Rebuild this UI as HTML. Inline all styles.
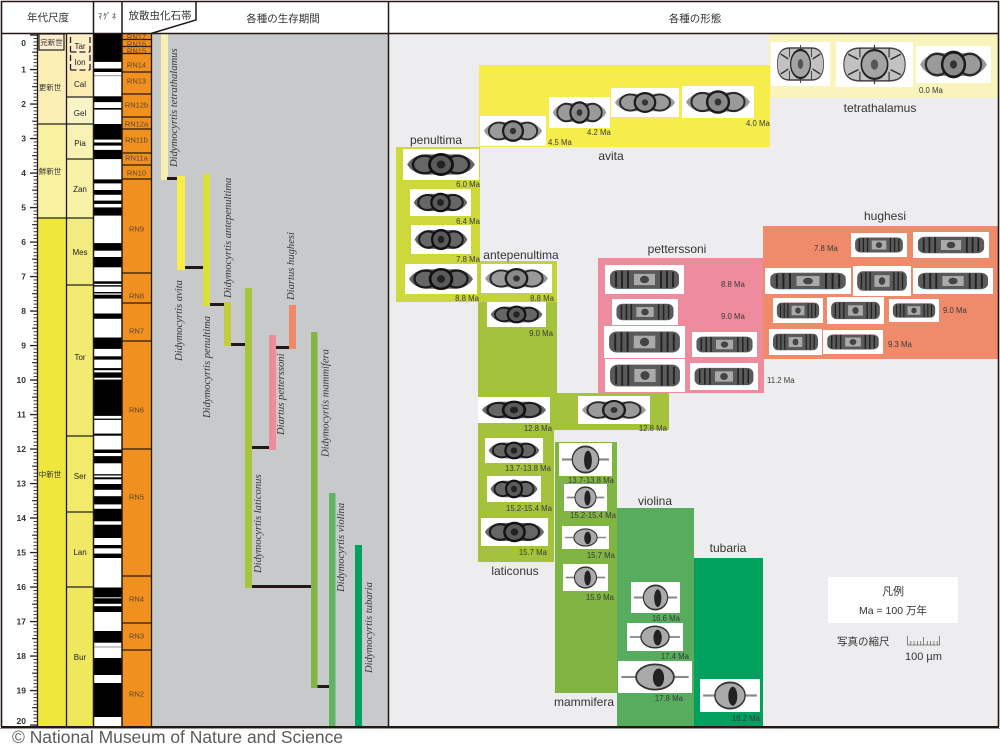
<!DOCTYPE html>
<html><head><meta charset="utf-8"><style>
html,body{margin:0;padding:0;background:#fff}
svg{display:block}
.s{font-family:"Liberation Sans","Noto Sans CJK JP",sans-serif}
.i{font-family:"Liberation Serif",serif;font-style:italic;font-size:10.6px;fill:#3a3a3a}
.m{font-family:"Liberation Sans",sans-serif;font-size:7.8px;fill:#3a3a3a}
.sp{font-family:"Liberation Sans",sans-serif;font-size:12px;fill:#333}
.rn{font-family:"Liberation Sans",sans-serif;font-size:7.5px;fill:#5b4630}
.st{font-family:"Liberation Sans",sans-serif;font-size:8px;fill:#222}
.ep{font-family:"Liberation Sans","Noto Sans CJK JP",sans-serif;font-size:7.5px;fill:#333}
.nm{font-family:"Liberation Sans",sans-serif;font-size:8.5px;font-weight:bold;fill:#333}
.hd{font-family:"Liberation Sans","Noto Sans CJK JP",sans-serif;font-size:10.5px;fill:#333}
</style></head><body>
<svg width="1000" height="750" viewBox="0 0 1000 750" xmlns="http://www.w3.org/2000/svg">
<defs>
<symbol id="fa" viewBox="0 0 100 40" preserveAspectRatio="none">
 <path d="M3 20 Q10 8 28 6 L72 6 Q90 8 97 20 Q90 32 72 34 L28 34 Q10 32 3 20Z" fill="#9a9a9a"/>
 <ellipse cx="27" cy="20" rx="16" ry="13" fill="none" stroke="#2a2a2a" stroke-width="3"/>
 <ellipse cx="73" cy="20" rx="16" ry="13" fill="none" stroke="#2a2a2a" stroke-width="3"/>
 <ellipse cx="50" cy="20" rx="16" ry="15" fill="#8a8a8a" stroke="#1a1a1a" stroke-width="3.5"/>
 <circle cx="50" cy="20" r="5" fill="#333"/>
</symbol>
<symbol id="fd" viewBox="0 0 100 40" preserveAspectRatio="none">
 <path d="M3 20 Q10 7 28 5 L72 5 Q90 7 97 20 Q90 33 72 35 L28 35 Q10 33 3 20Z" fill="#666"/>
 <ellipse cx="27" cy="20" rx="16" ry="13" fill="none" stroke="#1a1a1a" stroke-width="3.5"/>
 <ellipse cx="73" cy="20" rx="16" ry="13" fill="none" stroke="#1a1a1a" stroke-width="3.5"/>
 <ellipse cx="50" cy="20" rx="16" ry="15" fill="#5a5a5a" stroke="#111" stroke-width="4"/>
 <circle cx="50" cy="20" r="6" fill="#222"/>
</symbol>
<symbol id="fb" viewBox="0 0 100 40" preserveAspectRatio="none">
 <rect x="4" y="5" width="92" height="30" rx="10" fill="#5a5a5a"/>
 <rect x="36" y="11" width="28" height="18" fill="#aaa"/>
 <circle cx="50" cy="20" r="6" fill="#444"/>
 <path d="M12 8V32M20 6V34M28 6V34M72 6V34M80 6V34M88 8V32" stroke="#222" stroke-width="2.5"/>
</symbol>
<symbol id="fc" viewBox="0 0 100 40" preserveAspectRatio="none">
 <rect x="2" y="18.5" width="96" height="3" fill="#888"/>
 <ellipse cx="50" cy="20" rx="27" ry="18" fill="#aaa" stroke="#333" stroke-width="2.5"/>
 <ellipse cx="55" cy="21" rx="8" ry="13" fill="#222"/>
</symbol>
<symbol id="ft" viewBox="0 0 100 40" preserveAspectRatio="none">
 <path d="M8 20 Q8 4 30 4 L70 4 Q92 4 92 20 Q92 36 70 36 L30 36 Q8 36 8 20Z" fill="#c2c2c2" stroke="#444" stroke-width="1.5"/>
 <path d="M14 10L28 15M14 30L28 25M86 10L72 15M86 30L72 25M30 4V13M70 4V13M30 36V27M70 36V27M50 1V6M50 34V39" stroke="#333" stroke-width="1.6"/>
 <ellipse cx="50" cy="20" rx="18" ry="14" fill="#a4a4a4" stroke="#222" stroke-width="2.2"/>
 <circle cx="50" cy="20" r="5" fill="#555"/>
</symbol>
<pattern id="mn" x="0" y="34.55" width="40" height="3.45" patternUnits="userSpaceOnUse"><rect x="0" y="0" width="40" height="0.9" fill="#222"/></pattern>
<pattern id="mj" x="0" y="34.4" width="40" height="34.5" patternUnits="userSpaceOnUse"><rect x="0" y="0" width="40" height="1.3" fill="#222"/></pattern>
<pattern id="md" x="0" y="51.65" width="40" height="34.5" patternUnits="userSpaceOnUse"><rect x="0" y="0" width="40" height="1" fill="#222"/></pattern>
</defs>

<!-- backgrounds -->
<rect x="0" y="0" width="1000" height="750" fill="#fff"/>
<rect x="389" y="34" width="610" height="693" fill="#ededef"/>
<rect x="152" y="34" width="236" height="693" fill="#c8c9cb"/>

<!-- scale ticks -->
<rect x="33.5" y="34" width="4" height="692" fill="url(#mn)"/>
<rect x="32" y="34" width="5.5" height="692" fill="url(#md)"/>
<rect x="30" y="34" width="7.5" height="692" fill="url(#mj)"/>
<g class="nm" text-anchor="end">
<text x="26" y="46">0</text><text x="26" y="72.5">1</text><text x="26" y="107">2</text><text x="26" y="141.5">3</text><text x="26" y="176">4</text><text x="26" y="210.5">5</text><text x="26" y="245">6</text><text x="26" y="279.5">7</text><text x="26" y="314">8</text><text x="26" y="348.5">9</text><text x="26" y="383">10</text><text x="26" y="417.5">11</text><text x="26" y="452">12</text><text x="26" y="486.5">13</text><text x="26" y="521">14</text><text x="26" y="555.5">15</text><text x="26" y="590">16</text><text x="26" y="624.5">17</text><text x="26" y="659">18</text><text x="26" y="693.5">19</text><text x="26" y="724">20</text>
</g>

<!-- epoch column -->
<rect x="38" y="34" width="28.5" height="90" fill="#fcefb6"/>
<rect x="38" y="124" width="28.5" height="94" fill="#f8f19f"/>
<rect x="38" y="218" width="28.5" height="509" fill="#efe73c"/>
<rect x="39" y="34" width="25" height="16" fill="#fdeccd" stroke="#222" stroke-width="1.2"/>
<path d="M38 124H66.5M38 218H66.5" stroke="#222" stroke-width="1.3"/>
<g class="ep" text-anchor="middle">
<text x="51.5" y="45">完新世</text>
<text x="50" y="90">更新世</text>
<text x="50" y="174">鮮新世</text>
<text x="50" y="477">中新世</text>
</g>

<!-- stage column -->
<rect x="66.5" y="34" width="27" height="36" fill="#fcefc8"/>
<rect x="66.5" y="70" width="27" height="27" fill="#fbedb2"/>
<rect x="66.5" y="97" width="27" height="27" fill="#f9f4c5"/>
<rect x="66.5" y="124" width="27" height="35" fill="#f8f3b4"/>
<rect x="66.5" y="159" width="27" height="59" fill="#f8f2a8"/>
<rect x="66.5" y="218" width="27" height="67" fill="#f2ec80"/>
<rect x="66.5" y="285" width="27" height="151" fill="#f2eb72"/>
<rect x="66.5" y="436" width="27" height="76" fill="#f1ea6b"/>
<rect x="66.5" y="512" width="27" height="75" fill="#f1e966"/>
<rect x="66.5" y="587" width="27" height="140" fill="#f0e85c"/>
<path d="M66.5 97H93.5M66.5 124H93.5M66.5 159H93.5M66.5 218H93.5M66.5 285H93.5M66.5 436H93.5M66.5 512H93.5M66.5 587H93.5" stroke="#222" stroke-width="1.3"/>
<path d="M70.5 37V70M90 37V70M70.5 52H90M70.5 70H90" stroke="#222" stroke-width="1.3" stroke-dasharray="6 3" fill="none"/>
<g class="st" text-anchor="middle">
<text x="80" y="49">Tar</text><text x="80" y="65">Ion</text><text x="80" y="87">Cal</text><text x="80" y="116">Gel</text><text x="80" y="146">Pia</text><text x="80" y="192">Zan</text><text x="80" y="255">Mes</text><text x="80" y="360">Tor</text><text x="80" y="479">Ser</text><text x="80" y="555">Lan</text><text x="80" y="660">Bur</text>
</g>

<!-- magnetic polarity -->
<rect x="94" y="34" width="28" height="693" fill="#fff"/>
<g fill="#000">
<rect x="94" y="34" width="28" height="27.9"/>
<rect x="94" y="68.5" width="28" height="3.5"/>
<rect x="94" y="96.3" width="28" height="5.8"/>
<rect x="94" y="108" width="28" height="1.6"/>
<rect x="94" y="124" width="28" height="15.6"/>
<rect x="94" y="142.5" width="28" height="3.1"/>
<rect x="94" y="149.9" width="28" height="9.2"/>
<rect x="94" y="179.4" width="28" height="4"/>
<rect x="94" y="190" width="28" height="4.8"/>
<rect x="94" y="200.6" width="28" height="3.3"/>
<rect x="94" y="207.4" width="28" height="8.2"/>
<rect x="94" y="243.1" width="28" height="7.6"/>
<rect x="94" y="257" width="28" height="10.3"/>
<rect x="94" y="281.3" width="28" height="2.5"/>
<rect x="94" y="285.2" width="28" height="1.4"/>
<rect x="94" y="292" width="28" height="1.4"/>
<rect x="94" y="294.7" width="28" height="3.9"/>
<rect x="94" y="313.5" width="28" height="5.3"/>
<rect x="94" y="337.5" width="28" height="11.4"/>
<rect x="94" y="356.3" width="28" height="3.3"/>
<rect x="94" y="368.1" width="28" height="2.1"/>
<rect x="94" y="372.4" width="28" height="5.3"/>
<rect x="94" y="379.6" width="28" height="36.3"/>
<rect x="94" y="418.6" width="28" height="1.3"/>
<rect x="94" y="433.6" width="28" height="2.1"/>
<rect x="94" y="449.5" width="28" height="3.5"/>
<rect x="94" y="456.1" width="28" height="7.2"/>
<rect x="94" y="474.2" width="28" height="1.3"/>
<rect x="94" y="477.3" width="28" height="2"/>
<rect x="94" y="484" width="28" height="5.8"/>
<rect x="94" y="496.2" width="28" height="8.2"/>
<rect x="94" y="508.8" width="28" height="12.5"/>
<rect x="94" y="524.7" width="28" height="13.3"/>
<rect x="94" y="545" width="28" height="3.3"/>
<rect x="94" y="553.6" width="28" height="4.4"/>
<rect x="94" y="587.5" width="28" height="9.6"/>
<rect x="94" y="598.3" width="28" height="5.5"/>
<rect x="94" y="606.2" width="28" height="5.8"/>
<rect x="94" y="631" width="28" height="11.7"/>
<rect x="94" y="658" width="28" height="17"/>
<rect x="94" y="683" width="28" height="34"/>
</g>
<rect x="94" y="75.3" width="28" height="0.9" fill="#888"/>
<rect x="94" y="597.4" width="28" height="0.9" fill="#888"/>
<rect x="94" y="646.5" width="28" height="0.9" fill="#888"/>

<!-- RN zones -->
<rect x="122" y="34" width="29.5" height="693" fill="#f0901f"/>
<path d="M122 39.5H151.5M122 46.5H151.5M122 53.5H151.5M122 72H151.5M122 94H151.5M122 117H151.5M122 129H151.5M122 153H151.5M122 165H151.5M122 179H151.5M122 273H151.5M122 303H151.5M122 341H151.5M122 449H151.5M122 576H151.5M122 623H151.5M122 650H151.5" stroke="#2a1a10" stroke-width="1.2"/>
<g class="rn" text-anchor="middle">
<text x="136.5" y="39.5">RN17</text><text x="136.5" y="46.5">RN16</text><text x="136.5" y="53.5">RN15</text>
<text x="136.5" y="67.5">RN14</text><text x="136.5" y="83.5">RN13</text><text x="136.5" y="107.5">RN12b</text><text x="136.5" y="126.5">RN12a</text><text x="136.5" y="142.5">RN11b</text><text x="136.5" y="160.5">RN11a</text><text x="136.5" y="175.5">RN10</text><text x="136.5" y="231.5">RN9</text><text x="136.5" y="298.5">RN8</text><text x="136.5" y="333.5">RN7</text><text x="136.5" y="412.5">RN6</text><text x="136.5" y="499.5">RN5</text><text x="136.5" y="601.5">RN4</text><text x="136.5" y="638.5">RN3</text><text x="136.5" y="696.5">RN2</text>
</g>

<!-- bars -->
<rect x="161" y="34" width="7" height="146" fill="#f6f1b2"/>
<rect x="177" y="176" width="8" height="94" fill="#f8ee47"/>
<rect x="203" y="174" width="7" height="132" fill="#dae136"/>
<rect x="224" y="302" width="7" height="44" fill="#c4cc3b"/>
<rect x="245" y="288" width="7" height="300" fill="#a6c53c"/>
<rect x="269" y="335" width="7" height="115" fill="#ee8c9c"/>
<rect x="289" y="305" width="7" height="44" fill="#ef8969"/>
<rect x="311" y="332" width="6.5" height="356" fill="#81b544"/>
<rect x="329" y="493" width="6.5" height="234" fill="#5fb563"/>
<rect x="355" y="545" width="7" height="182" fill="#00a261"/>
<g fill="#231815">
<rect x="167" y="177" width="10" height="3"/>
<rect x="185" y="266" width="18" height="3"/>
<rect x="210" y="303" width="14" height="3"/>
<rect x="231" y="343" width="14" height="3"/>
<rect x="252" y="446" width="17" height="3"/>
<rect x="276" y="346" width="13" height="3"/>
<rect x="252" y="585" width="59" height="3"/>
<rect x="317.5" y="685" width="11.5" height="3"/>
</g>
<g class="i">
<text transform="translate(177 167) rotate(-90)">Didymocyrtis tetrathalamus</text>
<text transform="translate(182 361) rotate(-90)">Didymocyrtis avita</text>
<text transform="translate(210 418) rotate(-90)">Didymocyrtis penultima</text>
<text transform="translate(231 298) rotate(-90)">Didymocyrtis antepenultima</text>
<text transform="translate(294 300) rotate(-90)">Diartus hughesi</text>
<text transform="translate(284 435) rotate(-90)">Diartus petterssoni</text>
<text transform="translate(328.5 457) rotate(-90)">Didymocyrtis mammifera</text>
<text transform="translate(261 573) rotate(-90)">Didymocyrtis laticonus</text>
<text transform="translate(344 592) rotate(-90)">Didymocyrtis violina</text>
<text transform="translate(372 673) rotate(-90)">Didymocyrtis tubaria</text>
</g>

<!-- right panel boxes -->
<rect x="769" y="34" width="230" height="64" fill="#f8f4bb"/>
<rect x="479" y="65" width="291" height="82" fill="#f6ec4c"/>
<rect x="396" y="147" width="84" height="155" fill="#cdd83a"/>
<rect x="478" y="261" width="79" height="41" fill="#c5d33a"/>
<path d="M478 302H557V393H669V430H554V562H478Z" fill="#a4c23c"/>
<rect x="598" y="258" width="166" height="135" fill="#ee8b9d"/>
<rect x="763" y="226" width="236" height="133" fill="#ef8b6b"/>
<rect x="555" y="442" width="62" height="251" fill="#80b443"/>
<rect x="617" y="508" width="77" height="219" fill="#57ac5d"/>
<rect x="694" y="558" width="69" height="169" fill="#00a05f"/>

<!-- images -->
<g fill="#fff">
<rect x="771" y="42" width="59" height="44"/><rect x="836" y="42" width="77" height="45"/><rect x="916" y="46" width="75" height="37"/>
<rect x="480" y="116" width="66" height="30"/><rect x="549" y="97" width="61" height="31"/><rect x="611" y="88" width="68" height="29"/><rect x="682" y="86" width="72" height="32"/>
<rect x="403" y="149" width="76" height="31"/><rect x="410" y="189" width="61" height="27"/><rect x="411" y="225" width="60" height="29"/><rect x="405" y="264" width="72" height="30"/>
<rect x="481" y="264" width="71" height="29"/><rect x="487" y="302" width="59" height="25"/><rect x="478" y="397" width="72" height="26"/><rect x="578" y="396" width="72" height="28"/>
<rect x="605" y="265" width="79" height="29"/><rect x="612" y="299" width="66" height="26"/><rect x="604" y="326" width="81" height="32"/><rect x="692" y="332" width="65" height="25"/><rect x="605" y="359" width="80" height="33"/><rect x="690" y="363" width="68" height="27"/>
<rect x="851" y="233" width="56" height="24"/><rect x="913" y="232" width="76" height="26"/><rect x="765" y="268" width="86" height="26"/><rect x="853" y="266" width="58" height="30"/><rect x="913" y="268" width="80" height="26"/><rect x="773" y="298" width="50" height="25"/><rect x="827" y="297" width="57" height="27"/><rect x="889" y="299" width="50" height="23"/><rect x="769" y="329" width="53" height="26"/><rect x="823" y="330" width="60" height="24"/>
<rect x="485" y="438" width="58" height="25"/><rect x="487" y="476" width="54" height="26"/><rect x="481" y="518" width="67" height="28"/>
<rect x="559" y="443" width="53" height="33"/><rect x="564" y="484" width="43" height="27"/><rect x="562" y="526" width="47" height="23"/><rect x="563" y="564" width="45" height="27"/>
<rect x="631" y="582" width="49" height="31"/><rect x="627" y="623" width="56" height="28"/><rect x="618" y="661" width="74" height="32"/>
<rect x="700" y="679" width="60" height="33"/>
</g>
<use href="#ft" x="773" y="44" width="55" height="40"/><use href="#ft" x="838" y="44" width="73" height="41"/><use href="#fa" x="918" y="48" width="71" height="33"/>
<use href="#fa" x="482" y="118" width="62" height="26"/><use href="#fa" x="551" y="99" width="57" height="27"/><use href="#fa" x="613" y="90" width="64" height="25"/><use href="#fa" x="684" y="88" width="68" height="28"/>
<use href="#fd" x="405" y="151" width="72" height="27"/><use href="#fd" x="412" y="191" width="57" height="23"/><use href="#fd" x="413" y="227" width="56" height="25"/><use href="#fd" x="407" y="266" width="68" height="26"/>
<use href="#fa" x="483" y="266" width="67" height="25"/><use href="#fd" x="489" y="304" width="55" height="21"/><use href="#fd" x="480" y="399" width="68" height="22"/><use href="#fa" x="580" y="398" width="68" height="24"/>
<use href="#fb" x="607" y="267" width="75" height="25"/><use href="#fb" x="614" y="301" width="62" height="22"/><use href="#fb" x="606" y="328" width="77" height="28"/><use href="#fb" x="694" y="334" width="61" height="21"/><use href="#fb" x="607" y="361" width="76" height="29"/><use href="#fb" x="692" y="365" width="64" height="23"/>
<use href="#fb" x="853" y="235" width="52" height="20"/><use href="#fb" x="915" y="234" width="72" height="22"/><use href="#fb" x="767" y="270" width="82" height="22"/><use href="#fb" x="855" y="268" width="54" height="26"/><use href="#fb" x="915" y="270" width="76" height="22"/><use href="#fb" x="775" y="300" width="46" height="21"/><use href="#fb" x="829" y="299" width="53" height="23"/><use href="#fb" x="891" y="301" width="46" height="19"/><use href="#fb" x="771" y="331" width="49" height="22"/><use href="#fb" x="825" y="332" width="56" height="20"/>
<use href="#fd" x="487" y="440" width="54" height="21"/><use href="#fd" x="489" y="478" width="50" height="22"/><use href="#fd" x="483" y="520" width="63" height="24"/>
<use href="#fc" x="561" y="445" width="49" height="29"/><use href="#fc" x="566" y="486" width="39" height="23"/><use href="#fc" x="564" y="528" width="43" height="19"/><use href="#fc" x="565" y="566" width="41" height="23"/>
<use href="#fc" x="633" y="584" width="45" height="27"/><use href="#fc" x="629" y="625" width="52" height="24"/><use href="#fc" x="620" y="663" width="70" height="28"/>
<use href="#fc" x="702" y="681" width="56" height="29"/>

<!-- Ma labels -->
<g class="m">
<text x="919" y="93">0.0 Ma</text>
<text x="548" y="145">4.5  Ma</text>
<text x="587" y="135">4.2 Ma</text>
<text x="746" y="126">4.0 Ma</text>
<text x="721" y="287">8.8  Ma</text>
<text x="721" y="319">9.0 Ma</text>
<text x="767" y="383">11.2  Ma</text>
<text x="814" y="251">7.8  Ma</text>
<text x="943" y="313">9.0 Ma</text>
<text x="888" y="347">9.3  Ma</text>
</g>
<g class="m" text-anchor="end">
<text x="480" y="187">6.0  Ma</text>
<text x="480" y="224">6.4  Ma</text>
<text x="480" y="262">7.8  Ma</text>
<text x="479" y="301">8.8 Ma</text>
<text x="554" y="301">8.8  Ma</text>
<text x="553" y="336">9.0  Ma</text>
<text x="552" y="431">12.8 Ma</text>
<text x="667" y="431">12.8 Ma</text>
<text x="551" y="471">13.7-13.8 Ma</text>
<text x="552" y="511">15.2-15.4 Ma</text>
<text x="547" y="555">15.7 Ma</text>
<text x="614" y="483">13.7-13.8 Ma</text>
<text x="616" y="518">15.2-15.4 Ma</text>
<text x="615" y="558">15.7 Ma</text>
<text x="614" y="600">15.9 Ma</text>
<text x="680" y="621">16.6 Ma</text>
<text x="689" y="659">17.4 Ma</text>
<text x="683" y="701">17.8 Ma</text>
<text x="760" y="721">18.2 Ma</text>
</g>

<!-- species labels -->
<g class="sp" text-anchor="middle">
<text x="880" y="112">tetrathalamus</text>
<text x="611" y="160">avita</text>
<text x="436" y="144">penultima</text>
<text x="521" y="259">antepenultima</text>
<text x="677" y="253">petterssoni</text>
<text x="885" y="220">hughesi</text>
<text x="515" y="575">laticonus</text>
<text x="584" y="706">mammifera</text>
<text x="655" y="505">violina</text>
<text x="728" y="552">tubaria</text>
</g>

<!-- legend -->
<rect x="828" y="577" width="130" height="46" fill="#fff"/>
<g class="s" fill="#333" text-anchor="middle">
<text x="893" y="595" font-size="11">凡例</text>
<text x="893" y="614" font-size="10.5">Ma = 100 万年</text>
</g>
<text class="s" x="837" y="645" font-size="10.5" fill="#333">写真の縮尺</text>
<text class="s" x="905" y="660" font-size="11" fill="#333">100 µm</text>
<path d="M907 645H940M907.5 636V645M910.8 641V645M914.1 641V645M917.4 641V645M920.7 641V645M923.5 637V645M927.3 641V645M930.6 641V645M933.9 641V645M937.2 641V645M939.5 636V645" stroke="#666" stroke-width="0.8" fill="none"/>

<!-- header -->
<g class="hd" text-anchor="middle">
<text x="48" y="21">年代尺度</text>
<text x="160" y="19">放散虫化石帯</text>
<text x="283" y="22">各種の生存期間</text>
<text x="695" y="22">各種の形態</text>
</g>
<text class="s" x="107.5" y="19" font-size="8" fill="#333" text-anchor="middle" letter-spacing="1">ﾏｸﾞﾈ</text>

<!-- frame and grid lines -->
<g stroke="#231815" fill="none">
<path d="M1 1.5H999M1.5 1V727M998.5 1V727" stroke-width="1.6"/>
<path d="M1 727H999" stroke-width="2"/>
<path d="M1 33.5H999" stroke-width="1.6"/>
<path d="M93.5 1V727M122 1V727M388.5 1V727" stroke-width="1.5"/>
<path d="M37.5 33V727M66.5 33V727M151.5 33V727" stroke-width="1.3"/>
<path d="M196 1V20L151 33.5" stroke-width="1.5"/>
</g>
<rect x="0" y="728" width="1000" height="1" fill="#999"/>

<!-- footer -->
<text x="12" y="743" font-family="'Liberation Sans',sans-serif" font-size="17.5" fill="#5a5a5a" textLength="331" lengthAdjust="spacingAndGlyphs">© National Museum of Nature and Science</text>
</svg>
</body></html>
